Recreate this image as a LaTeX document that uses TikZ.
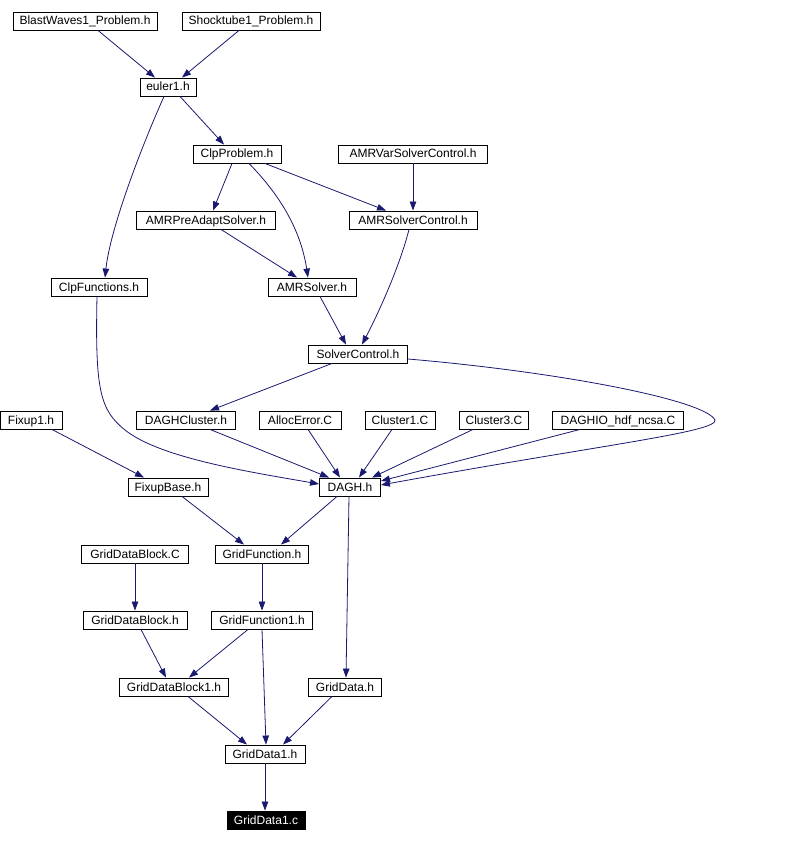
\documentclass[tikz,border=0pt]{standalone}
\usepackage{fontspec}
\setmainfont{Liberation Sans}
\usepackage{tikz}
\usetikzlibrary{arrows.meta,calc}

\definecolor{edgeblue}{RGB}{25,25,112}

\begin{document}
\begin{tikzpicture}[
    x=1pt, y=-1pt,
    hfile/.style={draw, rectangle, line width=0.9pt, inner sep=0pt, minimum height=18pt,
                  font=\fontsize{12}{14}\selectfont, text height=9pt, text depth=1pt},
    target/.style={hfile, fill=black, text=white},
    dep/.style={draw=edgeblue, line width=0.8pt, -{Triangle[length=9pt,width=6.5pt]}}
]
    \useasboundingbox (0,0) rectangle (790,842);

    % Top: problem headers
    \node[hfile, minimum width=144pt] (bw) at (85,21) {BlastWaves1\_Problem.h};
    \node[hfile, minimum width=138pt] (st) at (251,21) {Shocktube1\_Problem.h};
    \node[hfile, minimum width=56pt] (eu) at (168,87) {euler1.h};
    \node[hfile, minimum width=88pt] (cp) at (237,154) {ClpProblem.h};
    \node[hfile, minimum width=149pt] (avsc) at (413,154) {AMRVarSolverControl.h};
    \node[hfile, minimum width=139pt] (pre) at (206,220) {AMRPreAdaptSolver.h};
    \node[hfile, minimum width=128pt] (asc) at (413,220) {AMRSolverControl.h};
    \node[hfile, minimum width=96pt] (cf) at (99,287) {ClpFunctions.h};
    \node[hfile, minimum width=88pt] (asol) at (312,287) {AMRSolver.h};
    \node[hfile, minimum width=99pt] (sc) at (358,354) {SolverControl.h};

    % Middle: DAGH and its sources
    \node[hfile, minimum width=62pt] (fx1) at (31,420) {Fixup1.h};
    \node[hfile, minimum width=99pt] (dc) at (186,420) {DAGHCluster.h};
    \node[hfile, minimum width=82pt] (ae) at (300,420) {AllocError.C};
    \node[hfile, minimum width=70pt] (c1) at (400,420) {Cluster1.C};
    \node[hfile, minimum width=69pt] (c3) at (494,420) {Cluster3.C};
    \node[hfile, minimum width=131pt] (dio) at (618,420) {DAGHIO\_hdf\_ncsa.C};
    \node[hfile, minimum width=80pt] (fb) at (168,487) {FixupBase.h};
    \node[hfile, minimum width=61pt] (dagh) at (350,487) {DAGH.h};

    % Bottom: grid data
    \node[hfile, minimum width=107pt] (gdbc) at (135,554) {GridDataBlock.C};
    \node[hfile, minimum width=93pt] (gf) at (262,554) {GridFunction.h};
    \node[hfile, minimum width=104pt] (gdbh) at (135,620) {GridDataBlock.h};
    \node[hfile, minimum width=101pt] (gf1) at (262,620) {GridFunction1.h};
    \node[hfile, minimum width=109pt] (gdb1) at (174,687) {GridDataBlock1.h};
    \node[hfile, minimum width=73pt] (gd) at (345,687) {GridData.h};
    \node[hfile, minimum width=80pt] (gd1) at (265,754) {GridData1.h};
    \node[target, minimum width=78pt] (gdc) at (266,820) {GridData1.c};

    % include edges
    \draw[dep] ($(bw.south)+(13,0)$) -- ($(eu.north)+(-13,0)$);
    \draw[dep] ($(st.south)+(-12,0)$) -- ($(eu.north)+(14,0)$);
    \draw[dep] ($(eu.south)+(12,0)$) -- ($(cp.north)+(-13,0)$);
    \draw[dep] ($(eu.south)+(-4,0)$) .. controls (140,150) and (110,230) .. ($(cf.north)+(6,0)$);
    \draw[dep] ($(cp.south)+(-5,0)$) -- ($(pre.north)+(7,0)$);
    \draw[dep] ($(cp.south)+(12,0)$) .. controls (275,190) and (300,225) .. ($(asol.north)+(-4,0)$);
    \draw[dep] ($(cp.south)+(28,0)$) -- ($(asc.north)+(-27,0)$);
    \draw[dep] (avsc.south) -- (asc.north);
    \draw[dep] ($(pre.south)+(15,0)$) -- ($(asol.north)+(-15,0)$);
    \draw[dep] ($(asc.south)+(-4,0)$) .. controls (400,265) and (380,310) .. ($(sc.north)+(4,0)$);
    \draw[dep] ($(asol.south)+(8,0)$) -- ($(sc.north)+(-12,0)$);
    \draw[dep] ($(sc.south)+(-26,0)$) -- ($(dc.north)+(24,0)$);
    \draw[dep] ($(sc.east)+(0,5)$) .. controls (560,372) and (705,400) .. (715,420)
        .. controls (718,432) and (600,445) .. ($(dagh.east)+(0,-2)$);
    \draw[dep] ($(cf.south)+(-2,0)$) .. controls (95,390) and (100,410) .. (125,430)
        .. controls (160,458) and (250,472) .. ($(dagh.west)+(0,-3)$);
    \draw[dep] ($(dc.south)+(24,0)$) -- ($(dagh.north)+(-21,0)$);
    \draw[dep] ($(ae.south)+(8,0)$) -- ($(dagh.north)+(-10,0)$);
    \draw[dep] ($(c1.south)+(-8,0)$) -- ($(dagh.north)+(9,0)$);
    \draw[dep] ($(c3.south)+(-21,0)$) -- ($(dagh.north)+(22,0)$);
    \draw[dep] ($(dio.south)+(-38,0)$) -- ($(dagh.east)+(0,-6)$);
    \draw[dep] ($(fx1.south)+(21,0)$) -- ($(fb.north)+(-24,0)$);
    \draw[dep] ($(fb.south)+(14,0)$) -- ($(gf.north)+(-18,0)$);
    \draw[dep] ($(dagh.south)+(-13,0)$) -- ($(gf.north)+(19,0)$);
    \draw[dep] ($(dagh.south)+(-1,0)$) -- ($(gd.north)+(1,0)$);
    \draw[dep] (gdbc.south) -- (gdbh.north);
    \draw[dep] (gf.south) -- (gf1.north);
    \draw[dep] ($(gdbh.south)+(6,0)$) -- ($(gdb1.north)+(-8,0)$);
    \draw[dep] ($(gf1.south)+(-14,0)$) -- ($(gdb1.north)+(15,0)$);
    \draw[dep] (gf1.south) -- ($(gd1.north)+(1,0)$);
    \draw[dep] ($(gdb1.south)+(14,0)$) -- ($(gd1.north)+(-18,0)$);
    \draw[dep] ($(gd.south)+(-13,0)$) -- ($(gd1.north)+(18,0)$);
    \draw[dep] (gd1.south) -- ($(gdc.north)+(-1,0)$);
\end{tikzpicture}
\end{document}
